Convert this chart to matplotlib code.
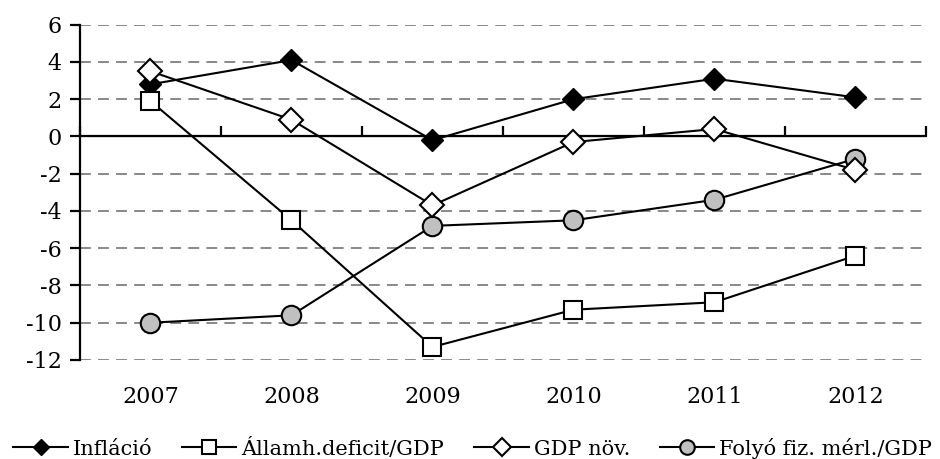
import matplotlib.pyplot as plt
import numpy as np

years = ["2007", "2008", "2009", "2010", "2011", "2012"]
inflacio = [2.8, 4.1, -0.2, 2.0, 3.1, 2.1]
deficit = [1.9, -4.5, -11.3, -9.3, -8.9, -6.4]
gdp_nov = [3.5, 0.9, -3.7, -0.3, 0.4, -1.8]
folyo = [-10.0, -9.6, -4.8, -4.5, -3.4, -1.2]
yticks = list(range(-12, 7, 2))

plt.rcParams['font.family'] = ['DejaVu Serif']

fig = plt.figure(figsize=(9.4, 4.59), dpi=100)
ax = fig.add_axes([0.0851, 0.2157, 0.9, 0.7305])

x = np.arange(len(years))
ax.set_xlim(-0.5, len(years) - 0.5)
ax.set_ylim(yticks[0], yticks[-1])

# dashed grid everywhere except the zero line
for yv in yticks:
    if yv != 0:
        ax.axhline(yv, color='#7f7f7f', lw=1.3, ls=(0, (6, 4)), zorder=0)
ax.axhline(0, color='black', lw=1.6, zorder=1)

ax.plot(x, inflacio, color='black', lw=1.5, marker='D', ms=11,
        mfc='black', mec='black', label='Infláció', zorder=3)
ax.plot(x, deficit, color='black', lw=1.5, marker='s', ms=12.5,
        mfc='white', mec='black', mew=1.5, label='Államh.deficit/GDP', zorder=3)
ax.plot(x, gdp_nov, color='black', lw=1.5, marker='D', ms=12,
        mfc='white', mec='black', mew=1.5, label='GDP növ.', zorder=4)
ax.plot(x, folyo, color='black', lw=1.5, marker='o', ms=14,
        mfc='#c0c0c0', mec='black', mew=1.5, label='Folyó fiz. mérl./GDP', zorder=3)

for s in ['top', 'right', 'bottom']:
    ax.spines[s].set_visible(False)
ax.spines['left'].set_linewidth(1.6)

ax.set_yticks(yticks)
ax.set_yticklabels([str(v) for v in yticks], fontsize=16)
ax.tick_params(axis='y', direction='out', length=7, width=1.6, pad=6)

ax.set_xticks(x)
ax.set_xticklabels(years, fontsize=16)
ax.tick_params(axis='x', length=0, pad=19)

# category boundary ticks on the zero line
zero_pos = (0 - yticks[0]) / (yticks[-1] - yticks[0])
sec = ax.secondary_xaxis(zero_pos)
sec.spines['bottom'].set_visible(False)
sec.set_xticks(np.arange(-0.5, len(years), 1.0))
sec.set_xticklabels([])
sec.tick_params(axis='x', direction='out', length=7, width=1.6)

fig.legend(loc='lower center', bbox_to_anchor=(0.503, -0.04), ncol=4,
           frameon=False, handlelength=2.6, handletextpad=0.24,
           columnspacing=1.45, markerscale=0.75,
           prop={'family': 'DejaVu Serif', 'size': 15})

fig.savefig('out.png', dpi=100)
